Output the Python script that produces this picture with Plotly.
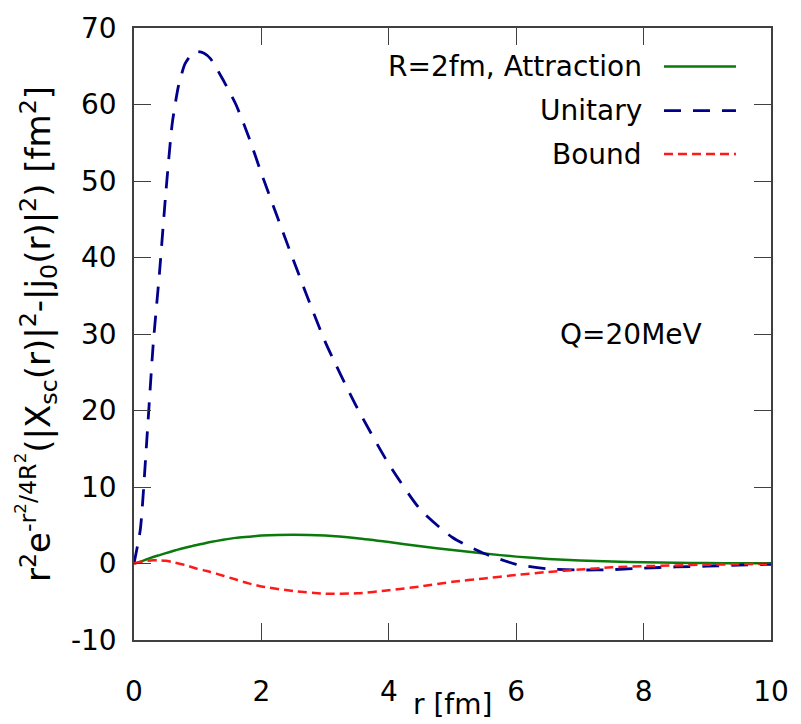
import plotly.graph_objects as go

r = [0, 0.1, 0.2, 0.3, 0.4, 0.5, 0.6, 0.7, 0.8, 0.9, 1.0, 1.1, 1.2, 1.4, 1.6, 1.8, 2.0,
     2.5, 3.0, 3.5, 4.0, 4.5, 5.0, 5.5, 6.0, 6.5, 7.0, 7.5, 8.0, 8.5, 9.0, 9.5, 10.0]

attraction = [0, 0.25, 0.55, 0.85, 1.1, 1.35, 1.6, 1.85, 2.05, 2.25, 2.45, 2.62, 2.8, 3.1,
              3.35, 3.5, 3.65, 3.77, 3.65, 3.3, 2.8, 2.25, 1.75, 1.3, 0.9, 0.6, 0.4, 0.25,
              0.15, 0.1, 0.06, 0.03, 0.02]

unitary = [0, 4.5, 16, 28.5, 38, 48.5, 57.5, 62.5, 65.3, 66.5, 66.9, 66.7, 66.0, 63.2,
           60.0, 55.8, 51.0, 39.7, 29.0, 20.4, 13.0, 7.0, 3.4, 1.3, -0.1, -0.7, -0.85,
           -0.8, -0.6, -0.45, -0.35, -0.2, -0.1]

bound = [0, 0.2, 0.35, 0.42, 0.42, 0.35, 0.2, 0.0, -0.2, -0.45, -0.7, -0.9, -1.1, -1.6,
         -2.1, -2.6, -3.0, -3.6, -3.95, -3.9, -3.5, -3.0, -2.4, -1.95, -1.5, -1.1, -0.8,
         -0.5, -0.35, -0.25, -0.15, -0.1, -0.05]

x_ticks = [0, 2, 4, 6, 8, 10]
x_tick_labels = ["0", "2", "4", "6", "8", "10"]
y_ticks = [-10, 0, 10, 20, 30, 40, 50, 60, 70]
y_tick_labels = ["-10", "0", "10", "20", "30", "40", "50", "60", "70"]

names = ["R=2fm, Attraction", "Unitary", "Bound"]
colors = ["#0a7a0a", "#00008b", "#ff1a1a"]
dashes = ["solid", "17px,12px", "9px,5px"]
widths = [2.5, 2.8, 2.5]
series = [attraction, unitary, bound]

FONT = "DejaVu Sans"
FS = 28
fig = go.Figure()
for name, ys, c, d, w in zip(names, series, colors, dashes, widths):
    fig.add_trace(go.Scatter(x=r, y=ys, mode="lines", name=name,
                             line=dict(color=c, dash=d, width=w, shape="spline", smoothing=0.6),
                             showlegend=False))

# gnuplot-style key: text on the left, sample line on the right
key_y = [0.937, 0.865, 0.794]
for name, c, d, w, ky in zip(names, colors, dashes, widths, key_y):
    fig.add_annotation(x=0.8, y=ky, xref="paper", yref="paper", text=name,
                       showarrow=False, xanchor="right", yanchor="middle",
                       font=dict(family=FONT, size=FS, color="#000"))
    fig.add_shape(type="line", xref="paper", yref="paper", x0=0.832, x1=0.945,
                  y0=ky, y1=ky, line=dict(color=c, dash=d, width=w))

fig.add_annotation(x=7.8, y=30.0, text="Q=20MeV", showarrow=False,
                   font=dict(family=FONT, size=FS, color="#000"))

# x-axis title placed between the "4" and "6" tick labels, as in the reference
fig.add_annotation(x=0.5, y=-0.105, xref="paper", yref="paper", text="r [fm]",
                   showarrow=False, xanchor="center", yanchor="middle",
                   font=dict(family=FONT, size=FS, color="#000"))

axis_common = dict(showline=True, mirror="ticks", linecolor="#404040", linewidth=1.5,
                   ticks="inside", ticklen=17, tickwidth=1.2, tickcolor="#404040",
                   showgrid=False, zeroline=False, ticklabeloverflow="allow",
                   tickfont=dict(family=FONT, size=FS, color="#000"))

fig.update_xaxes(range=[0, 10], tickvals=x_ticks, ticktext=x_tick_labels, ticklabelstandoff=26,
                 **axis_common)
fig.update_yaxes(range=[-10, 70], tickvals=y_ticks, ticktext=y_tick_labels, ticklabelstandoff=10,
                 title=dict(text="r<sup>2</sup>e<sup>-r<sup>2</sup>/4R<sup>2</sup></sup>(|X<sub>sc</sub>(r)|<sup>2</sup>-|j<sub>0</sub>(r)|<sup>2</sup>) [fm<sup>2</sup>]",
                            standoff=10,
                            font=dict(family=FONT, size=34, color="#000")),
                 **axis_common)

fig.update_layout(width=801, height=724, plot_bgcolor="white", paper_bgcolor="white",
                  margin=dict(l=134, r=26, t=24, b=84), showlegend=False)

# remove the browser's default 8px body margin so the figure fills the window exactly
fig.write_html("out.html", config={"displayModeBar": False},
               post_script="document.body.style.margin='0';")
